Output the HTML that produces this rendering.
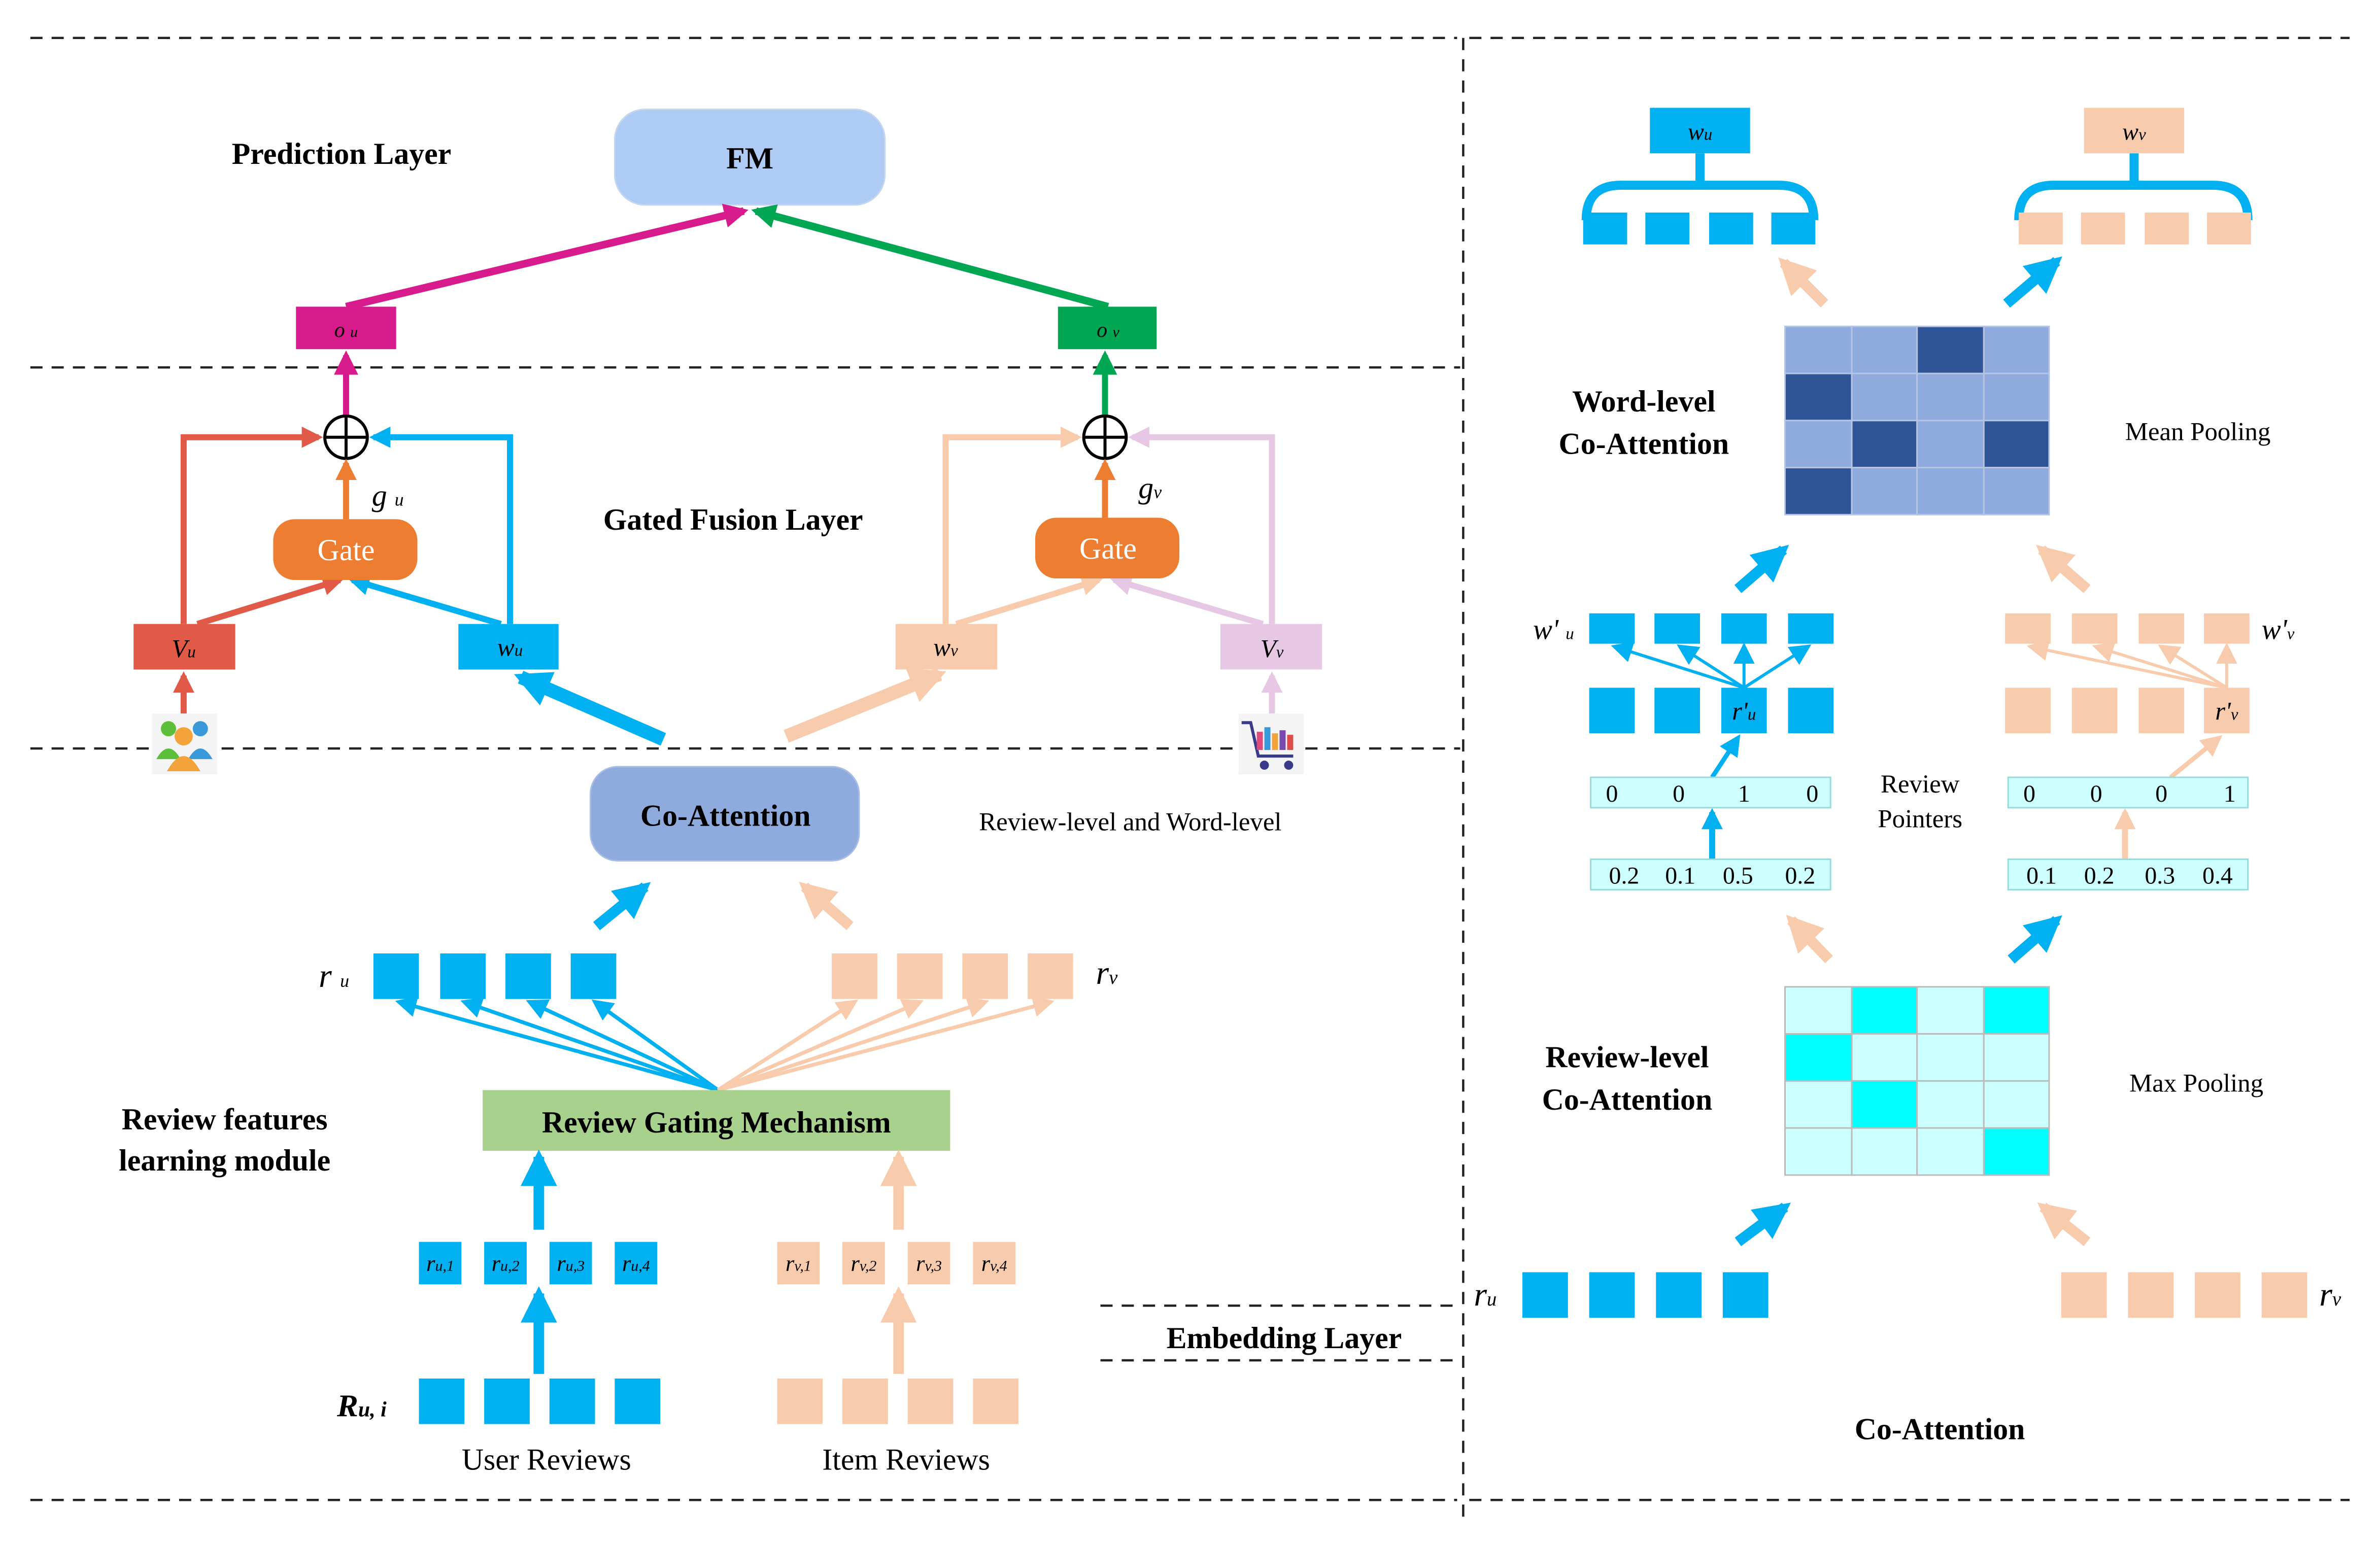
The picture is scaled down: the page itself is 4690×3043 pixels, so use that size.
<!DOCTYPE html>
<html><head><meta charset="utf-8"><style>
html,body{margin:0;padding:0;background:#fff;}
svg{display:block;}
text{font-family:"Liberation Serif",serif;}
.b{font-weight:bold;}
</style></head><body>
<svg width="4690" height="3043" viewBox="0 0 1568 1017" preserveAspectRatio="none" xmlns="http://www.w3.org/2000/svg">
<defs>
<marker id="m_mag" viewBox="0 0 10 10" refX="8" refY="5" markerWidth="16" markerHeight="16" markerUnits="userSpaceOnUse" orient="auto"><path d="M0,0L10,5L0,10z" fill="#d81b8c"/></marker>
<marker id="m_grn" viewBox="0 0 10 10" refX="8" refY="5" markerWidth="16" markerHeight="16" markerUnits="userSpaceOnUse" orient="auto"><path d="M0,0L10,5L0,10z" fill="#00a651"/></marker>
<marker id="m_blu" viewBox="0 0 10 10" refX="8" refY="5" markerWidth="14" markerHeight="14" markerUnits="userSpaceOnUse" orient="auto"><path d="M0,0L10,5L0,10z" fill="#00b0f0"/></marker>
<marker id="m_pch" viewBox="0 0 10 10" refX="8" refY="5" markerWidth="14" markerHeight="14" markerUnits="userSpaceOnUse" orient="auto"><path d="M0,0L10,5L0,10z" fill="#f8cbad"/></marker>
<marker id="m_red" viewBox="0 0 10 10" refX="8" refY="5" markerWidth="14" markerHeight="14" markerUnits="userSpaceOnUse" orient="auto"><path d="M0,0L10,5L0,10z" fill="#e05a47"/></marker>
<marker id="m_org" viewBox="0 0 10 10" refX="8" refY="5" markerWidth="14" markerHeight="14" markerUnits="userSpaceOnUse" orient="auto"><path d="M0,0L10,5L0,10z" fill="#ed7d31"/></marker>
<marker id="m_pnk" viewBox="0 0 10 10" refX="8" refY="5" markerWidth="14" markerHeight="14" markerUnits="userSpaceOnUse" orient="auto"><path d="M0,0L10,5L0,10z" fill="#e6c8e4"/></marker>
<marker id="t_blu" viewBox="0 0 10 10" refX="8" refY="5" markerWidth="24" markerHeight="24" markerUnits="userSpaceOnUse" orient="auto"><path d="M0,0L10,5L0,10z" fill="#00b0f0"/></marker>
<marker id="t_pch" viewBox="0 0 10 10" refX="8" refY="5" markerWidth="24" markerHeight="24" markerUnits="userSpaceOnUse" orient="auto"><path d="M0,0L10,5L0,10z" fill="#f8cbad"/></marker>
</defs>

<g stroke="#222" stroke-width="1.5" stroke-dasharray="8,6" fill="none">
<line x1="20" y1="25" x2="960" y2="25"/><line x1="968" y1="25" x2="1548" y2="25"/>
<line x1="20" y1="242" x2="962" y2="242"/>
<line x1="20" y1="493" x2="962" y2="493"/>
<line x1="20" y1="988" x2="960" y2="988"/><line x1="968" y1="988" x2="1548" y2="988"/>
<line x1="964" y1="25" x2="964" y2="1002"/>
<line x1="725" y1="860" x2="962" y2="860"/><line x1="725" y1="896" x2="962" y2="896"/>
</g>

<text x="225" y="108" class="b" font-size="20" text-anchor="middle">Prediction Layer</text>
<rect x="405" y="72" width="178" height="63" rx="20" fill="#aecbf5" stroke="#c6d6ee"/>
<text x="494" y="111" class="b" font-size="20" text-anchor="middle">FM</text>
<line x1="228" y1="202" x2="490" y2="139" stroke="#d81b8c" stroke-width="5" marker-end="url(#m_mag)"/>
<line x1="730" y1="202" x2="498" y2="139" stroke="#00a651" stroke-width="5" marker-end="url(#m_grn)"/>
<rect x="195" y="202" width="66" height="28" fill="#d81b8c"/>
<text x="228" y="222" font-size="14" font-style="italic" text-anchor="middle">o <tspan font-size="10">u</tspan></text>
<rect x="697" y="202" width="65" height="28" fill="#00a651"/>
<text x="730" y="222" font-size="14" font-style="italic" text-anchor="middle">o <tspan font-size="10">v</tspan></text>

<text x="483" y="349" class="b" font-size="20" text-anchor="middle">Gated Fusion Layer</text>
<line x1="228" y1="274" x2="228" y2="234" stroke="#d81b8c" stroke-width="4" marker-end="url(#m_mag)"/>
<line x1="728" y1="274" x2="728" y2="234" stroke="#00a651" stroke-width="4" marker-end="url(#m_grn)"/>
<circle cx="228" cy="288" r="14" fill="#fff" stroke="#000" stroke-width="2"/>
<line x1="214" y1="288" x2="242" y2="288" stroke="#000" stroke-width="2"/><line x1="228" y1="274" x2="228" y2="302" stroke="#000" stroke-width="2"/>
<circle cx="728" cy="288" r="14" fill="#fff" stroke="#000" stroke-width="2"/>
<line x1="714" y1="288" x2="742" y2="288" stroke="#000" stroke-width="2"/><line x1="728" y1="274" x2="728" y2="302" stroke="#000" stroke-width="2"/>

<line x1="228" y1="342" x2="228" y2="305" stroke="#ed7d31" stroke-width="4" marker-end="url(#m_org)"/>
<line x1="728" y1="341" x2="728" y2="305" stroke="#ed7d31" stroke-width="4" marker-end="url(#m_org)"/>
<text x="245" y="333" font-size="20" font-style="italic">g <tspan font-size="12">u</tspan></text>
<text x="750" y="328" font-size="20" font-style="italic">g<tspan font-size="12">v</tspan></text>

<polyline points="121,411 121,288 210,288" fill="none" stroke="#e05a47" stroke-width="4" marker-end="url(#m_red)"/>
<line x1="130" y1="411" x2="224" y2="382" stroke="#e05a47" stroke-width="4" marker-end="url(#m_red)"/>
<polyline points="336,411 336,288 246,288" fill="none" stroke="#00b0f0" stroke-width="4" marker-end="url(#m_blu)"/>
<line x1="330" y1="411" x2="232" y2="382" stroke="#00b0f0" stroke-width="4" marker-end="url(#m_blu)"/>
<polyline points="623,411 623,288 710,288" fill="none" stroke="#f8cbad" stroke-width="4" marker-end="url(#m_pch)"/>
<line x1="630" y1="411" x2="724" y2="382" stroke="#f8cbad" stroke-width="4" marker-end="url(#m_pch)"/>
<polyline points="838,411 838,288 746,288" fill="none" stroke="#e6c8e4" stroke-width="4" marker-end="url(#m_pnk)"/>
<line x1="832" y1="411" x2="734" y2="382" stroke="#e6c8e4" stroke-width="4" marker-end="url(#m_pnk)"/>

<rect x="180" y="342" width="95" height="40" rx="14" fill="#ed7d31"/>
<text x="228" y="369" font-size="20" fill="#fff" text-anchor="middle">Gate</text>
<rect x="682" y="341" width="95" height="40" rx="14" fill="#ed7d31"/>
<text x="730" y="368" font-size="20" fill="#fff" text-anchor="middle">Gate</text>

<rect x="88" y="411" width="67" height="30" fill="#e05a47"/>
<text x="121" y="433" font-size="17" font-style="italic" text-anchor="middle">V<tspan font-size="11">u</tspan></text>
<rect x="302" y="411" width="66" height="30" fill="#00b0f0"/>
<text x="336" y="432" font-size="17" font-style="italic" text-anchor="middle">w<tspan font-size="11">u</tspan></text>
<rect x="590" y="411" width="67" height="30" fill="#f8cbad"/>
<text x="623" y="432" font-size="17" font-style="italic" text-anchor="middle">w<tspan font-size="11">v</tspan></text>
<rect x="804" y="411" width="67" height="30" fill="#e6c8e4"/>
<text x="838" y="433" font-size="17" font-style="italic" text-anchor="middle">V<tspan font-size="11">v</tspan></text>

<line x1="121" y1="470" x2="121" y2="445" stroke="#e05a47" stroke-width="4" marker-end="url(#m_red)"/>
<line x1="838" y1="470" x2="838" y2="445" stroke="#e6c8e4" stroke-width="4" marker-end="url(#m_pnk)"/>
<rect x="100" y="470" width="43" height="40" fill="#f4f4f4"/>
<circle cx="111" cy="480" r="5" fill="#5bbf3a"/><circle cx="132" cy="480" r="5" fill="#3a9ad9"/>
<path d="M103,500 q8,-14 16,0z" fill="#5bbf3a"/><path d="M124,500 q8,-14 16,0z" fill="#3a9ad9"/>
<circle cx="121" cy="485" r="6" fill="#f2a33a"/><path d="M110,508 q11,-20 22,0z" fill="#f2a33a"/>
<rect x="816" y="470" width="43" height="40" fill="#f4f4f4"/>
<path d="M818,476 L824,476 L829,498 L852,498" fill="none" stroke="#3a3a8a" stroke-width="2"/>
<rect x="828" y="482" width="4" height="12" fill="#e04a7a"/><rect x="833" y="479" width="4" height="15" fill="#3a9ad9"/><rect x="838" y="483" width="4" height="11" fill="#f2a33a"/><rect x="843" y="481" width="4" height="13" fill="#7a4ab0"/><rect x="848" y="484" width="4" height="10" fill="#e04a4a"/>
<circle cx="833" cy="504" r="3" fill="#3a3a8a"/><circle cx="849" cy="504" r="3" fill="#3a3a8a"/>

<line x1="437" y1="487" x2="343" y2="446" stroke="#00b0f0" stroke-width="9" marker-end="url(#t_blu)"/>
<line x1="518" y1="485" x2="619" y2="444" stroke="#f8cbad" stroke-width="9" marker-end="url(#t_pch)"/>

<rect x="389" y="505" width="177" height="62" rx="18" fill="#8faadc" stroke="#a8bde3"/>
<text x="478" y="544" class="b" font-size="20" text-anchor="middle">Co-Attention</text>
<text x="645" y="547" font-size="17">Review-level and Word-level</text>
<line x1="393" y1="610" x2="425" y2="584" stroke="#00b0f0" stroke-width="7" marker-end="url(#t_blu)"/>
<line x1="560" y1="610" x2="530" y2="584" stroke="#f8cbad" stroke-width="7" marker-end="url(#t_pch)"/>

<g fill="#00b0f0"><rect x="246" y="628" width="30" height="30"/><rect x="290" y="628" width="30" height="30"/><rect x="333" y="628" width="30" height="30"/><rect x="376" y="628" width="30" height="30"/></g>
<g fill="#f8cbad"><rect x="548" y="628" width="30" height="30"/><rect x="591" y="628" width="30" height="30"/><rect x="634" y="628" width="30" height="30"/><rect x="677" y="628" width="30" height="30"/></g>
<text x="210" y="650" font-size="22" font-style="italic">r <tspan font-size="12">u</tspan></text>
<text x="722" y="648" font-size="22" font-style="italic">r<tspan font-size="13">v</tspan></text>
<g stroke="#00b0f0" stroke-width="2.5">
<line x1="473" y1="718" x2="263" y2="660" marker-end="url(#m_blu)"/><line x1="473" y1="718" x2="306" y2="660" marker-end="url(#m_blu)"/><line x1="473" y1="718" x2="349" y2="660" marker-end="url(#m_blu)"/><line x1="473" y1="718" x2="392" y2="660" marker-end="url(#m_blu)"/>
</g>
<g stroke="#f8cbad" stroke-width="2.5">
<line x1="473" y1="718" x2="563" y2="660" marker-end="url(#m_pch)"/><line x1="473" y1="718" x2="606" y2="660" marker-end="url(#m_pch)"/><line x1="473" y1="718" x2="649" y2="660" marker-end="url(#m_pch)"/><line x1="473" y1="718" x2="692" y2="660" marker-end="url(#m_pch)"/>
</g>
<rect x="318" y="718" width="308" height="40" fill="#a9d18e"/>
<text x="472" y="746" class="b" font-size="20" text-anchor="middle">Review Gating Mechanism</text>
<text x="148" y="744" class="b" font-size="20" text-anchor="middle">Review features</text>
<text x="148" y="771" class="b" font-size="20" text-anchor="middle">learning module</text>

<line x1="355" y1="810" x2="355" y2="762" stroke="#00b0f0" stroke-width="7" marker-end="url(#t_blu)"/>
<line x1="592" y1="810" x2="592" y2="762" stroke="#f8cbad" stroke-width="7" marker-end="url(#t_pch)"/>
<g fill="#00b0f0"><rect x="276" y="818" width="28" height="28"/><rect x="319" y="818" width="28" height="28"/><rect x="362" y="818" width="28" height="28"/><rect x="405" y="818" width="28" height="28"/></g>
<g fill="#f8cbad"><rect x="512" y="818" width="28" height="28"/><rect x="555" y="818" width="28" height="28"/><rect x="598" y="818" width="28" height="28"/><rect x="641" y="818" width="28" height="28"/></g>
<g font-size="15" font-style="italic" text-anchor="middle">
<text x="290" y="837">r<tspan font-size="10">u,1</tspan></text><text x="333" y="837">r<tspan font-size="10">u,2</tspan></text><text x="376" y="837">r<tspan font-size="10">u,3</tspan></text><text x="419" y="837">r<tspan font-size="10">u,4</tspan></text>
<text x="526" y="837">r<tspan font-size="10">v,1</tspan></text><text x="569" y="837">r<tspan font-size="10">v,2</tspan></text><text x="612" y="837">r<tspan font-size="10">v,3</tspan></text><text x="655" y="837">r<tspan font-size="10">v,4</tspan></text>
</g>
<line x1="355" y1="905" x2="355" y2="852" stroke="#00b0f0" stroke-width="7" marker-end="url(#t_blu)"/>
<line x1="592" y1="905" x2="592" y2="852" stroke="#f8cbad" stroke-width="7" marker-end="url(#t_pch)"/>
<g fill="#00b0f0"><rect x="276" y="908" width="30" height="30"/><rect x="319" y="908" width="30" height="30"/><rect x="362" y="908" width="30" height="30"/><rect x="405" y="908" width="30" height="30"/></g>
<g fill="#f8cbad"><rect x="512" y="908" width="30" height="30"/><rect x="555" y="908" width="30" height="30"/><rect x="598" y="908" width="30" height="30"/><rect x="641" y="908" width="30" height="30"/></g>
<text x="222" y="933" font-size="21" font-weight="bold" font-style="italic">R<tspan font-size="14">u,  i</tspan></text>
<text x="360" y="968" font-size="20" text-anchor="middle">User Reviews</text>
<text x="597" y="968" font-size="20" text-anchor="middle">Item Reviews</text>
<text x="846" y="888" class="b" font-size="20" text-anchor="middle">Embedding Layer</text>

<rect x="1087" y="71" width="66" height="30" fill="#00b0f0"/>
<text x="1120" y="92" font-size="16" font-style="italic" text-anchor="middle">w<tspan font-size="11">u</tspan></text>
<rect x="1373" y="71" width="66" height="30" fill="#f8cbad"/>
<text x="1406" y="92" font-size="16" font-style="italic" text-anchor="middle">w<tspan font-size="11">v</tspan></text>
<path d="M1045,145 Q1045,122 1068,122 L1172,122 Q1195,122 1195,145 M1120,122 L1120,101" fill="none" stroke="#00b0f0" stroke-width="6"/>
<path d="M1330,145 Q1330,122 1353,122 L1458,122 Q1481,122 1481,145 M1406,122 L1406,101" fill="none" stroke="#00b0f0" stroke-width="6"/>
<g fill="#00b0f0"><rect x="1043" y="140" width="29" height="21"/><rect x="1084" y="140" width="29" height="21"/><rect x="1126" y="140" width="29" height="21"/><rect x="1167" y="140" width="29" height="21"/></g>
<g fill="#f8cbad"><rect x="1330" y="140" width="29" height="21"/><rect x="1371" y="140" width="29" height="21"/><rect x="1413" y="140" width="29" height="21"/><rect x="1454" y="140" width="29" height="21"/></g>
<line x1="1202" y1="200" x2="1175" y2="173" stroke="#f8cbad" stroke-width="7" marker-end="url(#t_pch)"/>
<line x1="1322" y1="200" x2="1355" y2="172" stroke="#00b0f0" stroke-width="7" marker-end="url(#t_blu)"/>

<g stroke="#b4c4e4" stroke-width="1">
<rect x="1176" y="215" width="44" height="31" fill="#8faadc"/><rect x="1220" y="215" width="43" height="31" fill="#8faadc"/><rect x="1263" y="215" width="44" height="31" fill="#2f5597"/><rect x="1307" y="215" width="43" height="31" fill="#8faadc"/>
<rect x="1176" y="246" width="44" height="31" fill="#2f5597"/><rect x="1220" y="246" width="43" height="31" fill="#8faadc"/><rect x="1263" y="246" width="44" height="31" fill="#8faadc"/><rect x="1307" y="246" width="43" height="31" fill="#8faadc"/>
<rect x="1176" y="277" width="44" height="31" fill="#8faadc"/><rect x="1220" y="277" width="43" height="31" fill="#2f5597"/><rect x="1263" y="277" width="44" height="31" fill="#8faadc"/><rect x="1307" y="277" width="43" height="31" fill="#2f5597"/>
<rect x="1176" y="308" width="44" height="31" fill="#2f5597"/><rect x="1220" y="308" width="43" height="31" fill="#8faadc"/><rect x="1263" y="308" width="44" height="31" fill="#8faadc"/><rect x="1307" y="308" width="43" height="31" fill="#8faadc"/>
</g>
<text x="1083" y="271" class="b" font-size="20" text-anchor="middle">Word-level</text>
<text x="1083" y="299" class="b" font-size="20" text-anchor="middle">Co-Attention</text>
<text x="1448" y="290" font-size="17" text-anchor="middle">Mean Pooling</text>
<line x1="1145" y1="388" x2="1175" y2="362" stroke="#00b0f0" stroke-width="7" marker-end="url(#t_blu)"/>
<line x1="1375" y1="388" x2="1345" y2="362" stroke="#f8cbad" stroke-width="7" marker-end="url(#t_pch)"/>

<g fill="#00b0f0"><rect x="1047" y="404" width="30" height="20"/><rect x="1090" y="404" width="30" height="20"/><rect x="1134" y="404" width="30" height="20"/><rect x="1178" y="404" width="30" height="20"/></g>
<g fill="#f8cbad"><rect x="1321" y="404" width="30" height="20"/><rect x="1365" y="404" width="30" height="20"/><rect x="1409" y="404" width="30" height="20"/><rect x="1452" y="404" width="30" height="20"/></g>
<text x="1010" y="421" font-size="19" font-style="italic">w' <tspan font-size="11">u</tspan></text>
<text x="1490" y="421" font-size="19" font-style="italic">w'<tspan font-size="11">v</tspan></text>
<g fill="#00b0f0"><rect x="1047" y="453" width="30" height="30"/><rect x="1090" y="453" width="30" height="30"/><rect x="1134" y="453" width="30" height="30"/><rect x="1178" y="453" width="30" height="30"/></g>
<g fill="#f8cbad"><rect x="1321" y="453" width="30" height="30"/><rect x="1365" y="453" width="30" height="30"/><rect x="1409" y="453" width="30" height="30"/><rect x="1452" y="453" width="30" height="30"/></g>
<text x="1149" y="474" font-size="17" font-style="italic" text-anchor="middle">r'<tspan font-size="11">u</tspan></text>
<text x="1467" y="474" font-size="17" font-style="italic" text-anchor="middle">r'<tspan font-size="11">v</tspan></text>
<g stroke="#00b0f0" stroke-width="2">
<line x1="1149" y1="453" x2="1064" y2="426" marker-end="url(#m_blu)"/><line x1="1149" y1="453" x2="1107" y2="426" marker-end="url(#m_blu)"/><line x1="1149" y1="453" x2="1149" y2="426" marker-end="url(#m_blu)"/><line x1="1149" y1="453" x2="1191" y2="426" marker-end="url(#m_blu)"/>
</g>
<g stroke="#f8cbad" stroke-width="2">
<line x1="1467" y1="453" x2="1338" y2="426" marker-end="url(#m_pch)"/><line x1="1467" y1="453" x2="1381" y2="426" marker-end="url(#m_pch)"/><line x1="1467" y1="453" x2="1424" y2="426" marker-end="url(#m_pch)"/><line x1="1467" y1="453" x2="1467" y2="426" marker-end="url(#m_pch)"/>
</g>

<line x1="1128" y1="512" x2="1145" y2="486" stroke="#00b0f0" stroke-width="3" marker-end="url(#m_blu)"/>
<line x1="1430" y1="512" x2="1462" y2="486" stroke="#f8cbad" stroke-width="3" marker-end="url(#m_pch)"/>
<line x1="1128" y1="566" x2="1128" y2="535" stroke="#00b0f0" stroke-width="4" marker-end="url(#m_blu)"/>
<line x1="1400" y1="566" x2="1400" y2="535" stroke="#f8cbad" stroke-width="4" marker-end="url(#m_pch)"/>
<g fill="#ccfffe" stroke="#9adada" stroke-width="1">
<rect x="1048" y="512" width="158" height="20"/><rect x="1048" y="566" width="158" height="20"/>
<rect x="1323" y="512" width="158" height="20"/><rect x="1323" y="566" width="158" height="20"/>
</g>
<g font-size="16" text-anchor="middle">
<text x="1062" y="528">0</text><text x="1106" y="528">0</text><text x="1149" y="528">1</text><text x="1194" y="528">0</text>
<text x="1070" y="582">0.2</text><text x="1107" y="582">0.1</text><text x="1145" y="582">0.5</text><text x="1186" y="582">0.2</text>
<text x="1337" y="528">0</text><text x="1381" y="528">0</text><text x="1424" y="528">0</text><text x="1469" y="528">1</text>
<text x="1345" y="582">0.1</text><text x="1383" y="582">0.2</text><text x="1423" y="582">0.3</text><text x="1461" y="582">0.4</text>
</g>
<text x="1265" y="522" font-size="17" text-anchor="middle">Review</text>
<text x="1265" y="545" font-size="17" text-anchor="middle">Pointers</text>
<line x1="1205" y1="632" x2="1180" y2="606" stroke="#f8cbad" stroke-width="7" marker-end="url(#t_pch)"/>
<line x1="1325" y1="632" x2="1355" y2="606" stroke="#00b0f0" stroke-width="7" marker-end="url(#t_blu)"/>

<g stroke="#bbbbbb" stroke-width="1">
<rect x="1176" y="650" width="44" height="31" fill="#ccffff"/><rect x="1220" y="650" width="43" height="31" fill="#00ffff"/><rect x="1263" y="650" width="44" height="31" fill="#ccffff"/><rect x="1307" y="650" width="43" height="31" fill="#00ffff"/>
<rect x="1176" y="681" width="44" height="31" fill="#00ffff"/><rect x="1220" y="681" width="43" height="31" fill="#ccffff"/><rect x="1263" y="681" width="44" height="31" fill="#ccffff"/><rect x="1307" y="681" width="43" height="31" fill="#ccffff"/>
<rect x="1176" y="712" width="44" height="31" fill="#ccffff"/><rect x="1220" y="712" width="43" height="31" fill="#00ffff"/><rect x="1263" y="712" width="44" height="31" fill="#ccffff"/><rect x="1307" y="712" width="43" height="31" fill="#ccffff"/>
<rect x="1176" y="743" width="44" height="31" fill="#ccffff"/><rect x="1220" y="743" width="43" height="31" fill="#ccffff"/><rect x="1263" y="743" width="44" height="31" fill="#ccffff"/><rect x="1307" y="743" width="43" height="31" fill="#00ffff"/>
</g>
<text x="1072" y="703" class="b" font-size="20" text-anchor="middle">Review-level</text>
<text x="1072" y="731" class="b" font-size="20" text-anchor="middle">Co-Attention</text>
<text x="1447" y="719" font-size="17" text-anchor="middle">Max Pooling</text>
<line x1="1145" y1="818" x2="1176" y2="795" stroke="#00b0f0" stroke-width="7" marker-end="url(#t_blu)"/>
<line x1="1375" y1="818" x2="1346" y2="795" stroke="#f8cbad" stroke-width="7" marker-end="url(#t_pch)"/>
<g fill="#00b0f0"><rect x="1003" y="838" width="30" height="30"/><rect x="1047" y="838" width="30" height="30"/><rect x="1091" y="838" width="30" height="30"/><rect x="1135" y="838" width="30" height="30"/></g>
<g fill="#f8cbad"><rect x="1358" y="838" width="30" height="30"/><rect x="1402" y="838" width="30" height="30"/><rect x="1446" y="838" width="30" height="30"/><rect x="1490" y="838" width="30" height="30"/></g>
<text x="971" y="860" font-size="22" font-style="italic">r<tspan font-size="13">u</tspan></text>
<text x="1528" y="860" font-size="22" font-style="italic">r<tspan font-size="13">v</tspan></text>
<text x="1278" y="948" class="b" font-size="20" text-anchor="middle">Co-Attention</text>
</svg>
</body></html>
